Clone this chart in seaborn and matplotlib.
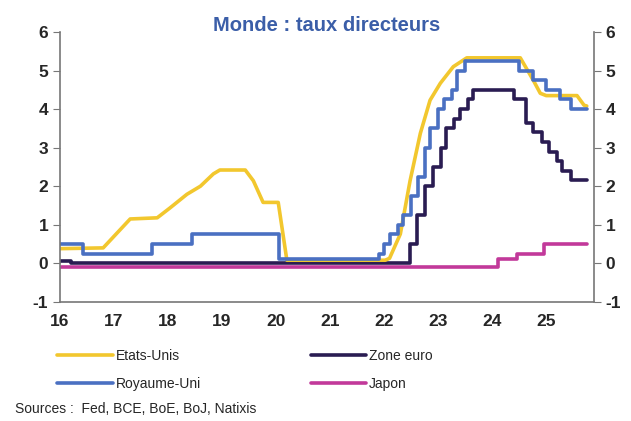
import matplotlib
matplotlib.use("Agg")
import matplotlib.pyplot as plt
import seaborn as sns
from matplotlib.ticker import MultipleLocator

# Etats-Unis: vertices of the (smoothed) line, decimal year (16 = 2016)
us_x = [16.0, 16.8, 17.3, 17.8, 18.04, 18.35, 18.6, 18.84, 18.96, 19.43, 19.58, 19.76,
        20.04, 20.2, 22.02, 22.1, 22.3, 22.48, 22.67, 22.85, 23.04, 23.28, 23.53, 24.52,
        24.76, 24.89, 25.0, 25.57, 25.7, 25.75]
us_y = [0.38, 0.4, 1.15, 1.18, 1.44, 1.79, 2.0, 2.32, 2.42, 2.42, 2.14, 1.58,
        1.58, 0.08, 0.08, 0.13, 0.76, 2.14, 3.37, 4.23, 4.67, 5.1, 5.33, 5.33,
        4.75, 4.41, 4.35, 4.35, 4.1, 4.08]

# other central banks: change points, drawn as steps
ez_x = [16.0, 16.2, 22.47, 22.6, 22.75, 22.9, 23.05, 23.15, 23.3, 23.4, 23.55, 23.65,
        24.4, 24.62, 24.75, 24.92, 25.05, 25.2, 25.3, 25.45, 25.75]
ez_y = [0.05, 0.0, 0.5, 1.25, 2.0, 2.5, 3.0, 3.5, 3.75, 4.0, 4.25, 4.5,
        4.25, 3.65, 3.4, 3.15, 2.9, 2.65, 2.4, 2.15, 2.15]

uk_x = [16.0, 16.43, 17.7, 18.45, 20.05, 21.9, 22.0, 22.1, 22.25, 22.35, 22.5, 22.62,
        22.75, 22.85, 23.0, 23.1, 23.25, 23.35, 23.5, 24.5, 24.75, 25.0, 25.25, 25.45, 25.75]
uk_y = [0.5, 0.25, 0.5, 0.75, 0.1, 0.25, 0.5, 0.75, 1.0, 1.25, 1.75, 2.25,
        3.0, 3.5, 4.0, 4.25, 4.5, 5.0, 5.25, 5.0, 4.75, 4.5, 4.25, 4.0, 4.0]

jp_x = [16.0, 24.1, 24.45, 24.95, 25.75]
jp_y = [-0.1, 0.1, 0.25, 0.5, 0.5]

years = [16, 17, 18, 19, 20, 21, 22, 23, 24, 25]

sns.set_style("white")
plt.rcParams["font.family"] = ["Liberation Sans", "DejaVu Sans"]
plt.rcParams["axes.unicode_minus"] = False

fig = plt.figure(figsize=(6.31, 4.21), dpi=100)
ax = fig.add_axes([0.095, 0.283, 0.846, 0.641])

c_us, c_ez, c_uk, c_jp = "#F2C72E", "#2A1C52", "#4A70C2", "#C2399A"
lw = 2.6
sns.lineplot(x=jp_x, y=jp_y, ax=ax, color=c_jp, lw=lw, drawstyle="steps-post", label="Japon")
sns.lineplot(x=ez_x, y=ez_y, ax=ax, color=c_ez, lw=lw, drawstyle="steps-post", label="Zone euro")
sns.lineplot(x=us_x, y=us_y, ax=ax, color=c_us, lw=lw, label="Etats-Unis")
sns.lineplot(x=uk_x, y=uk_y, ax=ax, color=c_uk, lw=lw, drawstyle="steps-post", label="Royaume-Uni")

ax.set_xlim(16, 25.88)
ax.set_ylim(-1, 6)
ax.set_xticks(years)
ax.set_xticklabels([str(y) for y in years])
ax.xaxis.set_minor_locator(MultipleLocator(1 / 6))
ax.set_yticks(range(-1, 7))
ax.tick_params(axis="x", which="major", direction="inout", length=6, color="#777777",
               labelsize=12.5, pad=6)
ax.tick_params(axis="x", which="minor", direction="in", length=3, color="#777777")
ax.tick_params(axis="y", direction="out", length=5, color="#777777", labelsize=12.5,
               left=True, right=True, labelleft=True, labelright=True)
for lab in ax.get_xticklabels() + ax.get_yticklabels():
    lab.set_fontweight("bold")
for s in ["left", "right", "bottom"]:
    ax.spines[s].set_color("#777777")
    ax.spines[s].set_linewidth(1.2)
ax.spines["top"].set_visible(False)
ax.set_xlabel("")
ax.set_ylabel("")

ax.set_title("Monde : taux directeurs", color="#3B5EA8", fontsize=14.5,
             fontweight="bold", pad=1)

h, l = ax.get_legend_handles_labels()
order = [l.index(n) for n in ["Etats-Unis", "Royaume-Uni", "Zone euro", "Japon"]]
ax.legend([h[i] for i in order], [l[i] for i in order], ncol=2, frameon=False,
          loc="upper left", bbox_to_anchor=(-0.015, -0.153), fontsize=10,
          handlelength=4, handletextpad=0.2, columnspacing=7.9, labelspacing=1.0,
          borderaxespad=0)

fig.text(0.024, 0.018, "Sources :  Fed, BCE, BoE, BoJ, Natixis", fontsize=10)

fig.savefig("out.png", dpi=100)
